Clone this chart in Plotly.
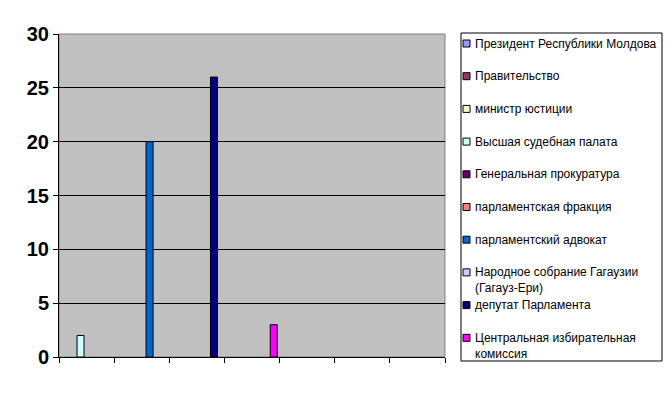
import plotly.graph_objects as go

# ---- data ----
categories = ["1", "2", "3", "4", "5", "6", "7"]
series_names = [
    "Президент Республики Молдова",
    "Правительство",
    "министр юстиции",
    "Высшая судебная палата",
    "Генеральная прокуратура",
    "парламентская фракция",
    "парламентский адвокат",
    "Народное собрание Гагаузии<br>(Гагауз-Ери)",
    "депутат Парламента",
    "Центральная избирательная<br>комиссия",
]
president = [None, None, None, None, None, None, None]
government = [None, None, None, None, None, None, None]
justice_minister = [None, None, None, None, None, None, None]
supreme_court = [2, None, None, None, None, None, None]
prosecutor = [None, None, None, None, None, None, None]
faction = [None, None, None, None, None, None, None]
ombudsman = [None, 20, None, None, None, None, None]
gagauz_assembly = [None, None, None, None, None, None, None]
deputy = [None, None, 26, None, None, None, None]
election_commission = [None, None, None, 3, None, None, None]
series_values = [president, government, justice_minister, supreme_court, prosecutor,
                 faction, ombudsman, gagauz_assembly, deputy, election_commission]
y_ticks = [0, 5, 10, 15, 20, 25, 30]

# ---- style ----
colors = ["#9999FF", "#993366", "#FFFFCC", "#CCFFFF", "#660066",
          "#FF8080", "#0066CC", "#CCCCFF", "#000080", "#FF00FF"]
FONT = "Arial, Liberation Sans, sans-serif"
OFF = 8  # page body margin
W, H = 672 - OFF, 394 - OFF
# plot area in target-page pixels
L, R, T, B = 59, 445, 34, 357


def xp(px):
    return (px - L) / (R - L)


def yp(py):
    return (B - py) / (B - T)


fig = go.Figure()
for k, (name, vals, col) in enumerate(zip(series_names, series_values, colors)):
    fig.add_trace(go.Bar(
        x=categories, y=vals, name=name,
        marker=dict(color=col, line=dict(color="black", width=1)),
        width=0.127, offset=-0.425 + 0.084 * k,
        showlegend=False,
    ))

shapes = [
    dict(type="rect", xref="paper", yref="paper", x0=0, x1=1, y0=0, y1=1,
         line=dict(color="#808080", width=1), layer="below"),
    dict(type="rect", xref="paper", yref="paper", x0=xp(461), x1=xp(662),
         y0=yp(361), y1=yp(33), line=dict(color="black", width=1), fillcolor="white"),
]
annotations = []
for i, (name, col) in enumerate(zip(series_names, colors)):
    yc = 43.5 + 32.7 * i
    shapes.append(dict(type="rect", xref="paper", yref="paper",
                       x0=xp(463), x1=xp(470), y0=yp(yc + 3.5), y1=yp(yc - 3.5),
                       fillcolor=col, line=dict(color="black", width=1)))
    annotations.append(dict(xref="paper", yref="paper", x=xp(474), y=yp(yc - 8),
                            xanchor="left", yanchor="top", align="left",
                            text=name, showarrow=False, borderpad=0,
                            font=dict(family=FONT, size=12, color="black")))

fig.update_layout(
    width=W, height=H,
    margin=dict(l=L - OFF, r=W - (R - OFF), t=T - OFF, b=H - (B - OFF), pad=0),
    paper_bgcolor="white", plot_bgcolor="#C0C0C0",
    barmode="overlay",
    showlegend=False,
    shapes=shapes,
    annotations=annotations,
    xaxis=dict(type="category", range=[-0.5, 6.5], showgrid=False,
               showline=True, linecolor="black", linewidth=1,
               ticks="outside", tickson="boundaries", ticklen=5,
               tickcolor="black", showticklabels=False),
    yaxis=dict(range=[0, 30], tickvals=y_ticks, showgrid=True,
               gridcolor="black", gridwidth=1, zeroline=False,
               showline=True, linecolor="black", linewidth=1,
               ticks="outside", ticklen=5, tickcolor="black",
               tickfont=dict(family=FONT, size=20, color="black", weight="bold")),
)

fig.write_html("out.html")
